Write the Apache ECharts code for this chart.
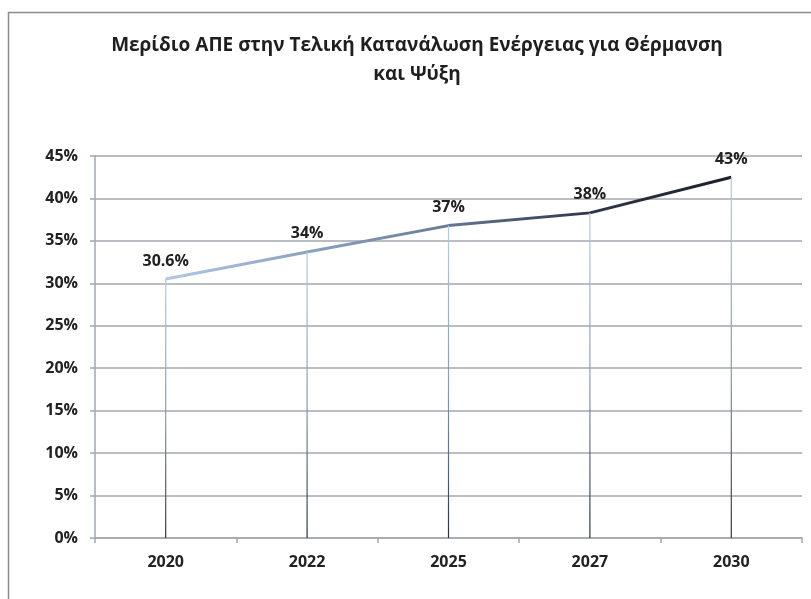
<!DOCTYPE html>
<html>
<head>
<meta charset="utf-8">
<script src="https://cdn.jsdelivr.net/npm/echarts@6/dist/echarts.min.js"></script>
<style>
html,body{margin:0;padding:0;background:#fff;}
#chart{width:811px;height:599px;}
</style>
</head>
<body>
<div id="chart"></div>
<script>
const titleText = 'Μερίδιο ΑΠΕ στην Τελική Κατανάλωση Ενέργειας για Θέρμανση\nκαι Ψύξη';
const categories = ['2020', '2022', '2025', '2027', '2030'];
const shareValues = [30.5, 33.7, 36.8, 38.3, 42.5];
const pointLabels = ['30.6%', '34%', '37%', '38%', '43%'];
const yTicks = [0, 5, 10, 15, 20, 25, 30, 35, 40, 45];

const chart = echarts.init(document.getElementById('chart'));
const font = '"Open Sans", "Noto Sans", sans-serif';
chart.setOption({
  backgroundColor: '#ffffff',
  animation: false,
  graphic: [{
    type: 'polyline',
    shape: { points: [[8.5, 599], [8.5, 12.5], [811, 12.5]] },
    style: { stroke: '#8a8a8a', lineWidth: 1.5, fill: null }
  }],
  title: {
    text: titleText,
    left: 412,
    textAlign: 'center',
    top: 26,
    textStyle: {
      fontFamily: font, fontWeight: 'bold', fontSize: 19, color: '#1f1f1f', lineHeight: 29
    }
  },
  grid: { left: 95, right: 9, top: 156, bottom: 61, containLabel: false },
  xAxis: {
    type: 'category',
    data: categories,
    boundaryGap: true,
    axisLine: { lineStyle: { color: '#a2a7b0', width: 1.5 } },
    axisTick: { show: true, length: 5, alignWithLabel: false, lineStyle: { color: '#a2a7b0', width: 1.5 } },
    axisLabel: { margin: 16, fontFamily: font, fontWeight: 'bold', fontSize: 16, color: '#222' },
    splitLine: { show: false }
  },
  yAxis: {
    type: 'value',
    min: 0, max: 45, interval: 5,
    axisLine: { show: true, lineStyle: { color: '#a2a7b0', width: 1.5 } },
    axisTick: { show: true, length: 5, lineStyle: { color: '#a2a7b0', width: 1.5 } },
    axisLabel: {
      margin: 17, fontFamily: font, fontWeight: 'bold', fontSize: 16, color: '#222',
      formatter: v => yTicks.includes(v) ? v + '%' : ''
    },
    splitLine: { show: true, lineStyle: { color: '#a2a7b0', width: 1.5 } }
  },
  series: [
    {
      type: 'bar',
      data: shareValues,
      barWidth: 1.2,
      silent: true,
      itemStyle: {
        color: new echarts.graphic.LinearGradient(0, 0, 0, 1, [
          { offset: 0, color: '#b4cbe6' },
          { offset: 0.55, color: '#8596b0' },
          { offset: 1, color: '#2a3142' }
        ])
      },
      label: {
        show: true,
        position: 'top',
        distance: 10,
        fontFamily: font, fontWeight: 'bold', fontSize: 16, color: '#222',
        formatter: p => pointLabels[p.dataIndex]
      },
      z: 4
    },
    {
      type: 'line',
      data: shareValues,
      symbol: 'none',
      lineStyle: {
        width: 3,
        color: new echarts.graphic.LinearGradient(0, 0, 1, 0, [
          { offset: 0, color: '#b0c8e6' },
          { offset: 0.45, color: '#6f84a3' },
          { offset: 0.75, color: '#2e3648' },
          { offset: 1, color: '#1b1f29' }
        ])
      },
      z: 3
    }
  ]
});
</script>
</body>
</html>
